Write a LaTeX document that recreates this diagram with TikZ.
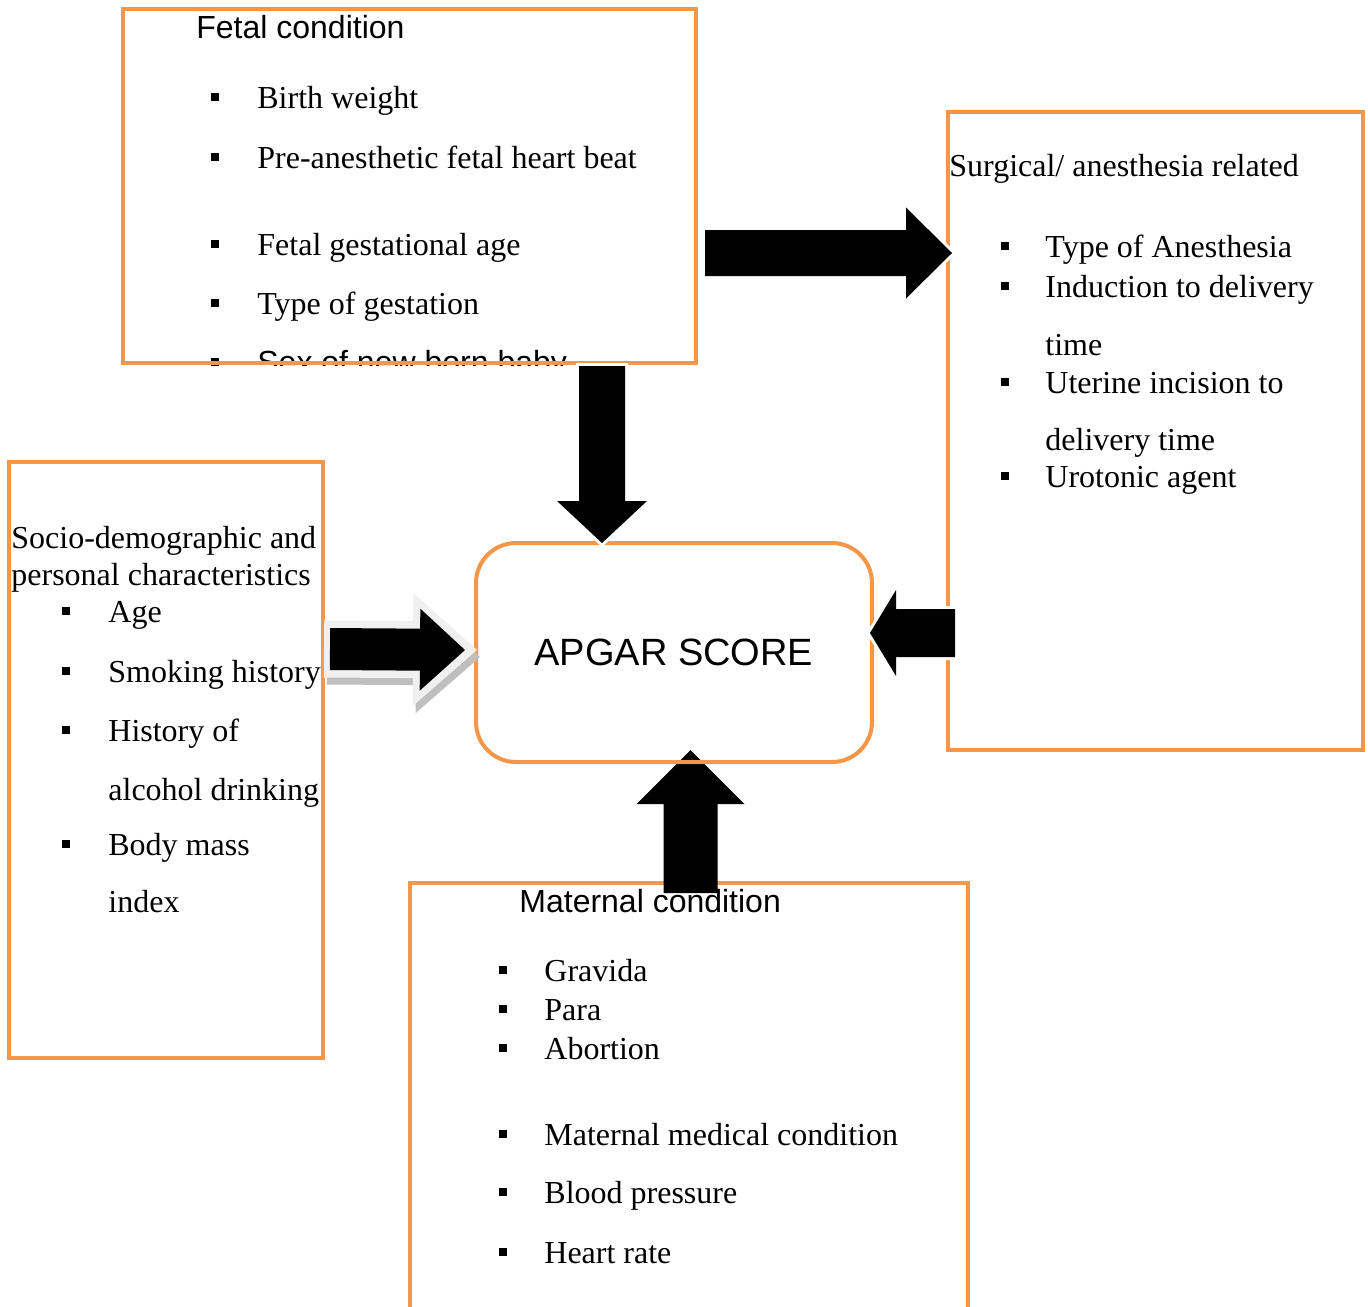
\documentclass[tikz,border=0pt]{standalone}
\usepackage{fontspec}
\setmainfont{Liberation Serif}
\setsansfont{Liberation Sans}
\usetikzlibrary{calc}
\definecolor{boxorange}{HTML}{F79646}
\tikzset{
	obox/.style={draw=boxorange,line width=2pt},
	item/.style={anchor=base west,inner sep=0pt,font=\fontsize{16}{19}\selectfont},
	head/.style={item,font=\sffamily\fontsize{16}{19}\selectfont},
	bul/.style={fill=black,minimum size=4.3pt,inner sep=0pt},
	blk/.style={fill=black,preaction={draw=white,line width=3pt}}
}
% tail, tip, half shaft, half head, head length
\newcommand\fatarrow[6][blk]{%
	\path ($(#3)!#6!(#2)$) coordinate (hb);
	\path[#1] ($(#2)!#4!90:(#3)$)--($(hb)!#4!90:(#3)$)--($(hb)!#5!90:(#3)$)--(#3)
	--($(hb)!#5!-90:(#3)$)--($(hb)!#4!-90:(#3)$)--($(#2)!#4!-90:(#3)$)--cycle;}
\begin{document}
\begin{tikzpicture}[x=.5pt,y=-.5pt]
	\clip (0,0) rectangle (1368,1306);
	\fill[white] (0,0) rectangle (1368,1306);
	% fetal condition
	\begin{scope}
		\clip (123,9) rectangle (696,365);
		\node[bul] (fb5) at (215,362) {};
		\node[head] (f5) at (257,373) {Sex of new born baby};
	\end{scope}
	\draw[obox] (123,9) rectangle (696,363);
	\node[head] (ftitle) at (196,39) {Fetal condition};
	\foreach \t/\y[count=\i] in {Birth weight/108,Pre-anesthetic fetal heart beat/168,
		Fetal gestational age/255,Type of gestation/314}
	{\node[bul] (fb\i) at (215,\y-11) {};
		\node[item] (f\i) at (257,\y) {\t};}
	% surgical / anesthesia
	\draw[obox] (948,112) rectangle (1363,750);
	\node[item] (stitle) at (949,176) {Surgical/ anesthesia related};
	\foreach \t/\y[count=\i] in {Type of Anesthesia/257,Induction to delivery/297,
		Uterine incision to/393,Urotonic agent/487}
	{\node[bul] (sb\i) at (1005,\y-11) {};
		\node[item] (s\i) at (1045,\y) {\t};}
	\node[item] (s2b) at (1045,355) {time};
	\node[item] (s3b) at (1045,450) {delivery time};
	% socio-demographic
	\draw[obox] (9,462) rectangle (323,1058);
	\node[item] (ptitle) at (11,548) {Socio-demographic and};
	\node[item] (ptitleb) at (11,585) {personal characteristics};
	\foreach \t/\y[count=\i] in {Age/622,Smoking history/682,History of/741,Body mass/855}
	{\node[bul] (pb\i) at (66,\y-11) {};
		\node[item] (p\i) at (108,\y) {\t};}
	\node[item] (p3b) at (108,800) {alcohol drinking};
	\node[item] (p4b) at (108,912) {index};
	% maternal condition
	\draw[obox] (410,1330)--(410,883)--(968,883)--(968,1330);
	\node[head] (mtitle) at (519,912) {Maternal condition};
	\foreach \t/\y[count=\i] in {Gravida/981,Para/1020,Abortion/1059,
		Maternal medical condition/1145,Blood pressure/1203,Heart rate/1263}
	{\node[bul] (mb\i) at (503,\y-11) {};
		\node[item] (m\i) at (544,\y) {\t};}
	% arrows
	\path (690.5,893) coordinate (mt) (690.5,750) coordinate (mp);
	\fatarrow[fill=black]{mt}{mp}{13.5pt}{27pt}{27pt}
	\node[draw=boxorange,line width=2pt,rounded corners=20pt,minimum width=198pt,
	minimum height=109.5pt,font=\sffamily\fontsize{19}{22}\selectfont]
	(apgar) at (674,652.5) {APGAR SCORE};
	\path (705,253) coordinate (ft) (952,253) coordinate (fp)
	(602,366) coordinate (dt) (602,543) coordinate (dp)
	(955,633) coordinate (st) (870,633) coordinate (sp)
	(327,656) coordinate (ht) (480,657) coordinate (hp)
	(324,649) coordinate (gt) (477,650) coordinate (gp)
	(330,649) coordinate (pt) (465,650) coordinate (pp);
	\fatarrow{ft}{fp}{11.5pt}{22.75pt}{23pt}
	\fatarrow{dt}{dp}{11.5pt}{22.5pt}{21pt}
	\fatarrow{st}{sp}{12pt}{21.5pt}{13pt}
	\fatarrow[fill=black!25]{ht}{hp}{14.25pt}{28.25pt}{32pt}
	\fatarrow[fill=black!6]{gt}{gp}{14.25pt}{28.25pt}{32pt}
	\fatarrow[fill=black]{pt}{pp}{10.5pt}{20.5pt}{22.5pt}
\end{tikzpicture}
\end{document}
